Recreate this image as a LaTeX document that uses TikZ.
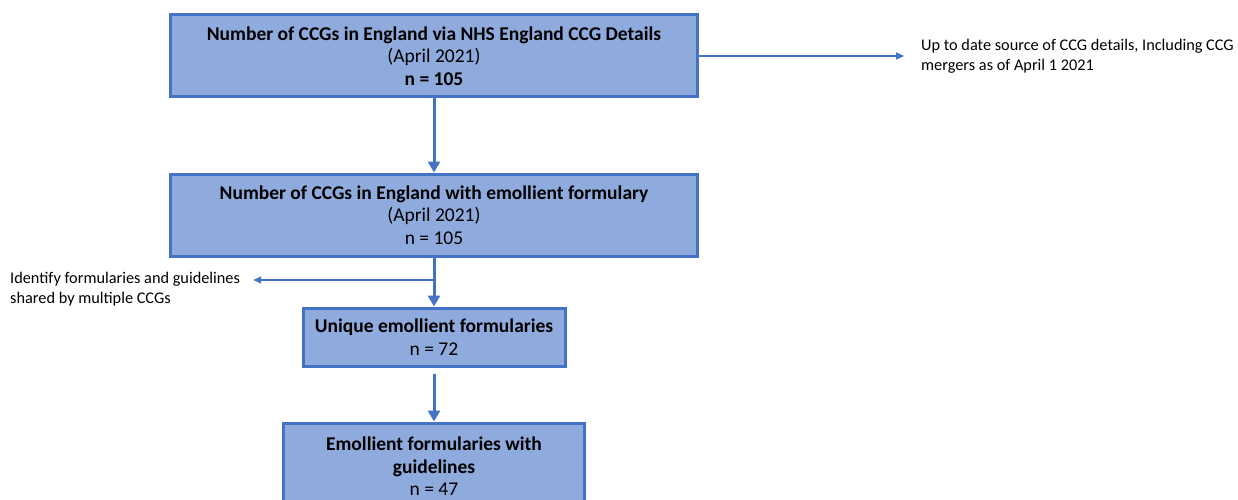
\documentclass[tikz,border=0pt]{standalone}
\usepackage{fontspec}
\setmainfont{Carlito}
\usetikzlibrary{arrows.meta}
\definecolor{boxfill}{RGB}{143,170,220}
\definecolor{boxline}{RGB}{68,114,196}
\begin{document}
\begin{tikzpicture}[x=1pt,y=-1pt,
  box/.style={draw=boxline, line width=3pt, fill=boxfill, align=center,
    font=\fontsize{19.5}{22.5}\selectfont, inner sep=0pt, text=black},
  note/.style={align=left, font=\fontsize{16.3}{20.5}\selectfont, inner sep=0pt, text=black},
  bigarrow/.style={draw=boxline, line width=3pt, -{Triangle[width=12pt,length=11pt]}},
  smallarrow/.style={draw=boxline, line width=1.3pt, -{Triangle[width=7pt,length=8pt]}}]
\useasboundingbox (0,0) rectangle (1238,500);
\clip (0,0) rectangle (1238,500);

\node[box, minimum width=527pt, minimum height=82pt] (b1) at (434,56)
  {\textbf{Number of CCGs in England via NHS England CCG Details}\\(April 2021)\\\textbf{n = 105}};
\node[box, minimum width=527pt, minimum height=82pt] (b2) at (434,215)
  {\textbf{Number of CCGs in England with emollient formulary}\\(April 2021)\\n = 105};
\node[box, minimum width=262pt, minimum height=58pt] (b3) at (434,337)
  {\textbf{Unique emollient formularies}\\n = 72};
\node[box, minimum width=301pt, minimum height=87pt] (b4) at (434,466.5)
  {\textbf{Emollient formularies with}\\\textbf{guidelines}\\n = 47};

\node[note, anchor=west] (rt) at (921,56)
  {Up to date source of CCG details, Including CCG\\mergers as of April 1 2021};
\node[note, anchor=west] (lt) at (10,289)
  {Identify formularies and guidelines\\shared by multiple CCGs};

\coordinate (br) at (434,280);

\draw[bigarrow] (b1.south) -- (b2.north);
\draw[bigarrow] (b2.south) -- (b3.north);
\draw[bigarrow] ([yshift=-6pt]b3.south) -- (b4.north);
\draw[smallarrow, shorten >=17pt] (b1.east) -- (b1.east -| rt.west);
\draw[smallarrow, shorten >=13pt] (br) -- (br -| lt.east);
\end{tikzpicture}
\end{document}
